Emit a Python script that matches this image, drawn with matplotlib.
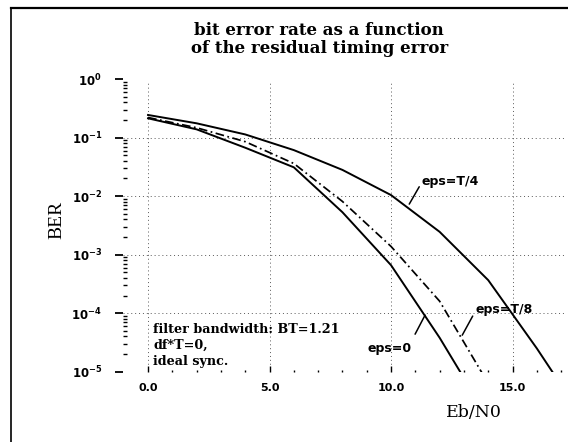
import matplotlib
matplotlib.use("Agg")
import matplotlib.pyplot as plt
from matplotlib.lines import Line2D
from matplotlib.ticker import FixedLocator, LogLocator, NullFormatter

# ---- data ----
ebn0 = [0, 2, 4, 6, 8, 10, 12, 14, 16, 18]
ber_eps0 = [0.213, 0.138, 0.067, 0.031, 0.0053, 6.6e-4, 3.8e-5, 1.6e-6]
ber_eps_t8 = [0.22, 0.147, 0.085, 0.036, 0.0081, 1.38e-3, 1.6e-4, 6.3e-6]
ber_eps_t4 = [0.243, 0.175, 0.113, 0.061, 0.028, 0.0104, 0.00245, 3.66e-4, 2.5e-5, 1.4e-6]

x_ticks = [0, 5, 10, 15]
x_tick_labels = ["0.0", "5.0", "10.0", "15.0"]
y_ticks = [1, 1e-1, 1e-2, 1e-3, 1e-4, 1e-5]
y_tick_labels = [r"$\mathbf{10^{0}}$", r"$\mathbf{10^{-1}}$", r"$\mathbf{10^{-2}}$",
                 r"$\mathbf{10^{-3}}$", r"$\mathbf{10^{-4}}$", r"$\mathbf{10^{-5}}$"]

title = "bit error rate as a function\nof the residual timing error"
note = "filter bandwidth: BT=1.21\ndf*T=0,\nideal sync."

# curve labels: text, text position, leader start, leader end
curve_labels = [
    ("eps=T/4", (11.26, 10 ** -1.752), (10.75, 10 ** -2.137), (11.16, 10 ** -1.841)),
    ("eps=T/8", (13.46, 10 ** -3.93), (12.93, 10 ** -4.376), (13.36, 10 ** -4.05)),
    ("eps=0", (9.05, 10 ** -4.598), (10.99, 10 ** -4.359), (11.40, 10 ** -4.034)),
]

fig = plt.figure(figsize=(5.68, 4.42), dpi=100)
ax = fig.add_axes([123 / 568, 1 - 371.7 / 442, (566 - 123) / 568, (371.7 - 79) / 442])

ax.set_yscale("log")
ax.set_xlim(-1.03, 17.2)
ax.set_ylim(1e-5, 1)

# grid (dotted)
for yv in y_ticks[1:]:
    ax.axhline(yv, color="0.35", lw=0.7, ls=(0, (1, 3)), zorder=1)
for xv in x_ticks:
    ax.axvline(xv, color="0.35", lw=0.7, ls=(0, (1, 3)), zorder=1, ymax=0.985)

ax.plot(ebn0[:len(ber_eps0)], ber_eps0, color="black", lw=1.4, zorder=3)
ax.plot(ebn0[:len(ber_eps_t8)], ber_eps_t8, color="black", lw=1.25,
        ls=(0, (5, 2, 1, 2)), zorder=3)
ax.plot(ebn0[:len(ber_eps_t4)], ber_eps_t4, color="black", lw=1.4, zorder=3)

for s in ax.spines.values():
    s.set_visible(False)

ax.xaxis.set_major_locator(FixedLocator(x_ticks))
ax.set_xticklabels(x_tick_labels)
ax.xaxis.set_minor_locator(FixedLocator([v for v in range(0, 18) if v % 5 != 0]))
ax.tick_params(axis="x", which="major", direction="in", length=4, width=1.0, pad=8,
               labelsize=8)
ax.tick_params(axis="x", which="minor", direction="in", length=1.5, width=1.0)
for lab in ax.get_xticklabels():
    lab.set_fontweight("bold")

ax.yaxis.set_major_locator(FixedLocator(y_ticks))
ax.set_yticklabels(y_tick_labels)
ax.yaxis.set_minor_locator(LogLocator(base=10, subs=range(2, 10), numticks=20))
ax.yaxis.set_minor_formatter(NullFormatter())
ax.tick_params(axis="y", which="major", direction="out", length=6, width=1.3, pad=9,
               labelsize=8.5)
ax.tick_params(axis="y", which="minor", direction="in", length=3, width=1.0)

ax.set_ylabel("BER", family="Liberation Serif", fontsize=14)
ax.yaxis.set_label_coords(-0.13, 0.52)
ax.text(14.57, -0.14, "Eb/N0", transform=ax.get_xaxis_transform(),
        family="DejaVu Serif", fontsize=12.5, ha="right", va="center")

fig.text(0.562, 0.911, title, ha="center", va="center", family="DejaVu Serif",
         fontweight="bold", fontsize=12, linespacing=1.05)

ax.text(0.21, 10 ** -4.16, note, family="DejaVu Serif", fontweight="bold",
        fontsize=9.2, va="top", ha="left", linespacing=1.3, zorder=4)

for text, tpos, p0, p1 in curve_labels:
    ax.text(tpos[0], tpos[1], text, family="DejaVu Sans", fontweight="bold",
            fontsize=9, va="center", ha="left", zorder=5)
    ax.annotate("", xy=p1, xytext=p0,
                arrowprops=dict(arrowstyle="-", color="black", lw=1.1,
                                shrinkA=0, shrinkB=0))

# page frame (left and top border)
fig.add_artist(Line2D([11 / 568, 11 / 568], [0, 1 - 8 / 442], transform=fig.transFigure,
                      color="black", lw=1.2))
fig.add_artist(Line2D([11 / 568, 1], [1 - 8 / 442, 1 - 8 / 442], transform=fig.transFigure,
                      color="black", lw=1.6))

fig.savefig("out.png", dpi=100)
